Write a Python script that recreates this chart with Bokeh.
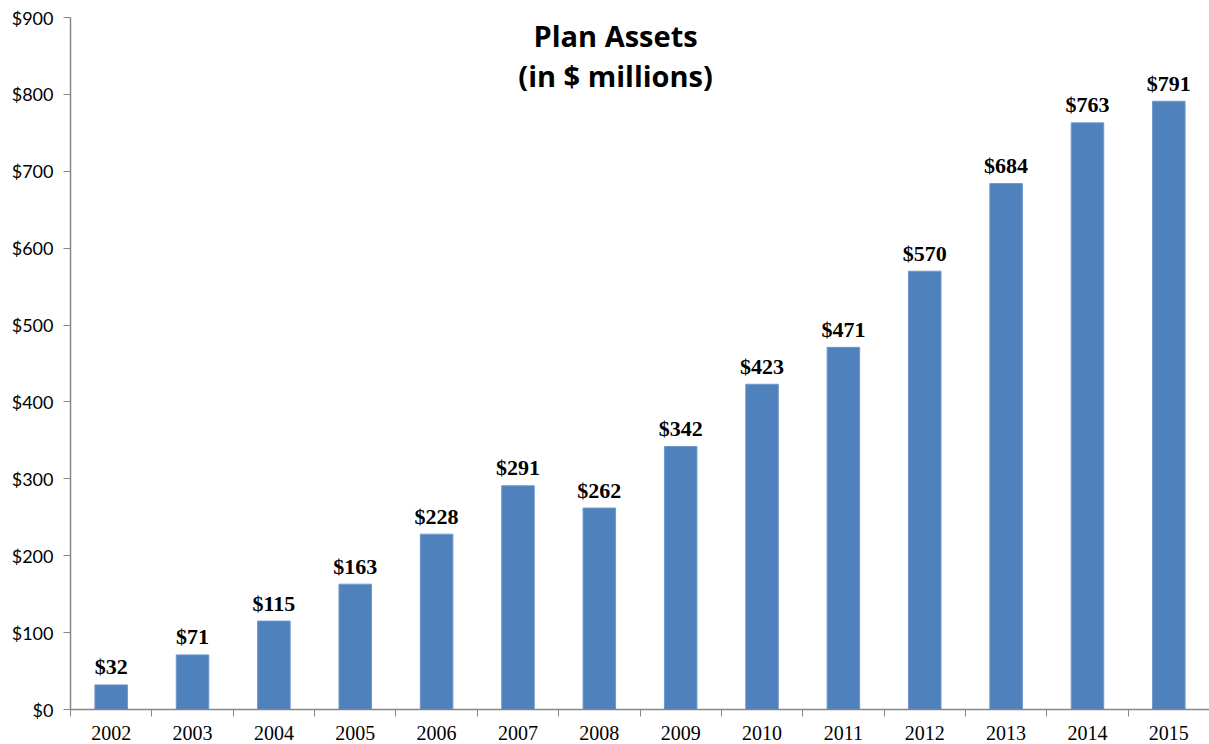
from bokeh.plotting import figure
from bokeh.models import ColumnDataSource, Range1d, FixedTicker, NumeralTickFormatter, Label
from bokeh.embed import file_html
from bokeh.resources import INLINE
from bokeh.core.properties import value

years = ["2002", "2003", "2004", "2005", "2006", "2007", "2008",
         "2009", "2010", "2011", "2012", "2013", "2014", "2015"]
assets = [32, 71, 115, 163, 228, 291, 262, 342, 423, 471, 570, 684, 763, 791]
y_ticks = [0, 100, 200, 300, 400, 500, 600, 700, 800, 900]
title_lines = ["Plan Assets", "(in $ millions)"]

labels = ["$" + str(v) for v in assets]
xs = [i + 0.5 for i in range(len(years))]
src = ColumnDataSource(dict(x=xs, top=assets, label=labels))

p = figure(width=1209, height=744, output_backend="svg", toolbar_location=None,
           x_range=Range1d(0, len(years)), y_range=Range1d(0, 900),
           min_border_left=70, min_border_right=0, min_border_top=17, min_border_bottom=35)
p.outline_line_color = None
p.xgrid.visible = False
p.ygrid.visible = False
p.background_fill_color = "white"
p.border_fill_color = "white"

axis_col = "#868686"

# x axis
p.xaxis.ticker = FixedTicker(ticks=xs, minor_ticks=list(range(len(years) + 1)))
p.xaxis.major_label_overrides = {x: y for x, y in zip(xs, years)}
p.xaxis.major_tick_line_color = None
p.xaxis.major_tick_out = 0
p.xaxis.major_tick_in = 0
p.xaxis.minor_tick_line_color = axis_col
p.xaxis.minor_tick_line_width = 1
p.xaxis.minor_tick_out = 7
p.xaxis.minor_tick_in = 0
p.xaxis.axis_line_color = axis_col
p.xaxis.axis_line_width = 1.5
p.xaxis.major_label_standoff = 9
p.xaxis.major_label_text_font = "Liberation Serif"
p.xaxis.major_label_text_font_size = "20px"
p.xaxis.major_label_text_color = "black"

# y axis
p.yaxis.ticker = FixedTicker(ticks=y_ticks)
p.yaxis.formatter = NumeralTickFormatter(format="$0")
p.yaxis.major_tick_line_color = axis_col
p.yaxis.major_tick_out = 7
p.yaxis.major_tick_in = 0
p.yaxis.minor_tick_line_color = None
p.yaxis.axis_line_color = axis_col
p.yaxis.axis_line_width = 1.5
p.yaxis.major_label_standoff = 10
p.yaxis.major_label_text_font = "Lato"
p.yaxis.major_label_text_font_size = "18px"
p.yaxis.major_label_text_color = "black"

p.vbar(x="x", top="top", bottom=0, width=0.4, source=src,
       fill_color="#4F81BD", line_color="#7098CB", line_width=1)

p.text(x="x", y="top", text="label", source=src,
       text_font=value("Liberation Serif"), text_font_style="bold",
       text_font_size="22px", text_align="center", text_baseline="alphabetic",
       text_color="black", y_offset=-18)

for txt, yv in zip(title_lines, [876.6, 824.5]):
    p.add_layout(Label(x=6.7, y=yv, text=txt, text_align="center", text_baseline="middle",
                       text_font="Open Sans", text_font_style="bold", text_font_size="29px",
                       text_color="black"))

open("out.html", "w").write(file_html(p, INLINE))
